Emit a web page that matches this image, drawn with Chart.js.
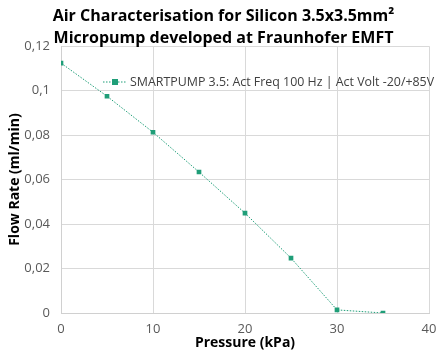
<!DOCTYPE html>
<html>
<head>
<meta charset="utf-8">
<script src="https://cdn.jsdelivr.net/npm/chart.js@4.4.1/dist/chart.umd.min.js"></script>
<style>
  html, body { margin: 0; padding: 0; background: #fff; }
</style>
</head>
<body>
<canvas id="myChart" width="440" height="351"></canvas>
<script>
// pressure (kPa) and flow rate (ml/min)
const pressure = [0, 5, 10, 15, 20, 25, 30, 35]
const flowRate = [0.1124, 0.0975, 0.0813, 0.0634, 0.0449, 0.0247, 0.0014, 0]
const seriesLabel = 'SMARTPUMP 3.5: Act Freq 100 Hz | Act Volt -20/+85V'
const titleLines = ['Air Characterisation for Silicon 3.5x3.5mm²', 'Micropump developed at Fraunhofer EMFT']

const teal = '#1f9e78'
const fontFam = '"Open Sans", "Noto Sans", sans-serif'

// legend sits inside the plot, so draw it by hand
const innerLegend = {
  id: 'innerLegend',
  afterDraw(chart) {
    const ctx = chart.ctx
    const x0 = 103, y0 = 82
    ctx.save()
    ctx.strokeStyle = teal
    ctx.lineWidth = 1
    ctx.setLineDash([1.5, 1.5])
    ctx.beginPath()
    ctx.moveTo(x0, y0)
    ctx.lineTo(x0 + 23, y0)
    ctx.stroke()
    ctx.setLineDash([])
    ctx.fillStyle = teal
    ctx.fillRect(x0 + 9, y0 - 3, 6, 6)
    ctx.fillStyle = '#404040'
    ctx.font = '12.4px ' + fontFam
    ctx.textBaseline = 'middle'
    ctx.fillText(seriesLabel, x0 + 27, y0)
    ctx.restore()
  }
}

const data = {
  labels: pressure,
  datasets: [{
    label: seriesLabel,
    data: pressure.map((p, i) => ({ x: p, y: flowRate[i] })),
    borderColor: teal,
    backgroundColor: teal,
    borderWidth: 1,
    borderDash: [1.5, 1.5],
    pointStyle: 'rect',
    pointRadius: 3.3,
    pointBorderWidth: 0,
    tension: 0
  }]
}

const config = {
  type: 'line',
  data: data,
  options: {
    responsive: false,
    animation: false,
    layout: { padding: { left: 7, right: 0, top: 6, bottom: 0 } },
    plugins: {
      legend: { display: false },
      tooltip: { enabled: false },
      title: {
        display: true,
        text: titleLines,
        color: '#000',
        font: { family: fontFam, size: 16, weight: 'bold', lineHeight: 1.35 },
        padding: { top: 0, bottom: -3 }
      }
    },
    scales: {
      x: {
        type: 'linear',
        min: 0, max: 40,
        ticks: { stepSize: 10, color: '#595959', font: { family: fontFam, size: 13 }, padding: 8 },
        grid: { color: '#d9d9d9', drawTicks: false },
        border: { color: '#d0d0d0' },
        title: { display: true, text: 'Pressure (kPa)', color: '#000', font: { family: fontFam, size: 14, weight: 'bold' }, padding: { top: -8, bottom: 0 } },
        afterFit(s) { s.height = 38; s.paddingRight = 11 }
      },
      y: {
        min: 0, max: 0.12,
        ticks: {
          stepSize: 0.02, color: '#595959', font: { family: fontFam, size: 13 }, padding: 11,
          callback: v => Number(v.toFixed(2)).toString().replace('.', ',')
        },
        grid: { color: '#d9d9d9', drawTicks: false },
        border: { color: '#d0d0d0' },
        title: { display: true, text: 'Flow Rate (ml/min)', color: '#000', font: { family: fontFam, size: 14, weight: 'bold' }, padding: 0 },
        afterFit(s) { s.width = 54 }
      }
    }
  },
  plugins: [innerLegend]
}

const myChart = new Chart(document.getElementById('myChart'), config)
</script>
</body>
</html>
